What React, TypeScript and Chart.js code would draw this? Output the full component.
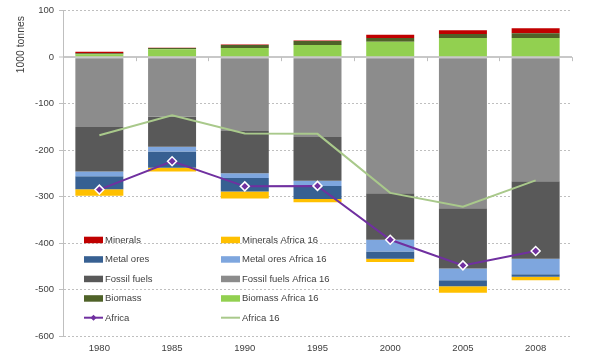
import React, { useEffect, useRef } from 'react';
import { Chart, registerables } from 'chart.js';

Chart.register(...registerables);

// ---------- data (1000 tonnes) ----------
const categories = ['1980', '1985', '1990', '1995', '2000', '2005', '2008'];
const minerals = [3, 0.5, 1, 1, 7, 8, 10.5];
const mineralsAfrica16 = [-14, -8, -15, -7, -7, -14, -7.5];
const metalOres = [-28, -35, -29, -28, -16, -13, -5.5];
const metalOresAfrica16 = [-10, -10, -10, -11, -25, -25, -33];
const fossilFuels = [-96, -65, -91, -94, -100, -130, -167];
const fossilFuelsAfrica16 = [-150, -128, -159, -172, -293, -325, -267];
const biomass = [2, 3, 6.5, 9, 8, 8.5, 10.5];
const biomassAfrica16 = [6.5, 17, 19.5, 26, 33, 41.5, 41];
const africa = [-285, -224, -278, -277, -393, -448, -417];
const africa16 = [-168, -125, -164, -165, -292, -322, -265];
const yMin = -600;
const yMax = 100;
const yStep = 100;
const yTitle = '1000 tonnes';

const legendOrder = [
  'Minerals', 'Minerals Africa 16',
  'Metal ores', 'Metal ores Africa 16',
  'Fossil fuels', 'Fossil fuels Africa 16',
  'Biomass', 'Biomass Africa 16',
  'Africa', 'Africa 16',
];

// ---------- styles ----------
const FONT = "'Liberation Sans', Arial, sans-serif";
const TEXT = '#404040';
const GRID = '#BFBFBF';
const C = {
  minerals: '#C00000',
  mineralsA16: '#FFC000',
  metal: '#376092',
  metalA16: '#7EA6DE',
  fossil: '#595959',
  fossilA16: '#8C8C8C',
  biomass: '#4F6228',
  biomassA16: '#92D050',
  africa: '#7030A0',
  africa16: '#A9C98B',
};

const bar = (label: string, data: number[], color: string) => ({
  type: 'bar' as const,
  label,
  data,
  backgroundColor: color,
  borderWidth: 0,
  categoryPercentage: 1,
  barPercentage: 0.66,
  order: 1,
});

const legendPlugin = {
  id: 'insideLegend',
  afterDraw(chart: any) {
    const { ctx, chartArea } = chart;
    const byLabel: Record<string, any> = {};
    chart.data.datasets.forEach((d: any) => (byLabel[d.label] = d));
    ctx.save();
    ctx.font = `9.5px ${FONT}`;
    ctx.textBaseline = 'middle';
    legendOrder.forEach((label, i) => {
      const ds = byLabel[label];
      const col = i % 2;
      const row = Math.floor(i / 2);
      const x = chartArea.left + 21 + col * 137;
      const y = chartArea.top + 229 + row * 19.5;
      if (ds.type === 'line') {
        ctx.strokeStyle = ds.borderColor;
        ctx.lineWidth = 2;
        ctx.beginPath();
        ctx.moveTo(x, y);
        ctx.lineTo(x + 19, y);
        ctx.stroke();
        if (ds.pointRadius > 0) {
          const cx = x + 9.5;
          const r = 3;
          ctx.fillStyle = ds.borderColor;
          ctx.beginPath();
          ctx.moveTo(cx, y - r);
          ctx.lineTo(cx + r, y);
          ctx.lineTo(cx, y + r);
          ctx.lineTo(cx - r, y);
          ctx.closePath();
          ctx.fill();
        }
      } else {
        ctx.fillStyle = ds.backgroundColor;
        ctx.fillRect(x, y - 3, 19, 6.5);
      }
      ctx.fillStyle = TEXT;
      ctx.fillText(label, x + 21, y + 0.5);
    });

    // y-axis title, placed at the top like the original
    ctx.save();
    ctx.translate(20.8, chartArea.top + 34);
    ctx.rotate(-Math.PI / 2);
    ctx.font = `10.4px ${FONT}`;
    ctx.textAlign = 'center';
    ctx.textBaseline = 'middle';
    ctx.fillStyle = TEXT;
    ctx.fillText(yTitle, 0, 0);
    ctx.restore();

    ctx.restore();
  },
};

const zeroTicksPlugin = {
  id: 'zeroTicks',
  beforeDatasetsDraw(chart: any) {
    const { ctx, chartArea, scales } = chart;
    const y0 = scales.y.getPixelForValue(0);
    const n = categories.length;
    const w = (chartArea.right - chartArea.left) / n;
    ctx.save();
    ctx.strokeStyle = GRID;
    ctx.lineWidth = 1;
    ctx.beginPath();
    for (let k = 1; k <= n; k++) {
      const x = Math.round(chartArea.left + k * w) + 0.5;
      ctx.moveTo(x, y0);
      ctx.lineTo(x, y0 + 4);
    }
    ctx.stroke();
    ctx.restore();
  },
};

export default function App() {
  const ref = useRef<HTMLCanvasElement>(null);

  useEffect(() => {
    const chart = new Chart(ref.current as HTMLCanvasElement, {
      type: 'bar',
      data: {
        labels: categories,
        datasets: [
          {
            type: 'line',
            label: 'Africa',
            data: africa,
            borderColor: C.africa,
            backgroundColor: C.africa,
            borderWidth: 2,
            pointStyle: 'rectRot',
            pointRadius: 4.5,
            pointBackgroundColor: C.africa,
            pointBorderColor: '#FFFFFF',
            pointBorderWidth: 1.5,
            tension: 0,
            stack: 'africa',
            order: 0,
          } as any,
          {
            type: 'line',
            label: 'Africa 16',
            data: africa16,
            borderColor: C.africa16,
            backgroundColor: C.africa16,
            borderWidth: 2,
            pointRadius: 0,
            tension: 0,
            stack: 'africa16',
            order: 0,
          } as any,
          bar('Biomass Africa 16', biomassAfrica16, C.biomassA16),
          bar('Biomass', biomass, C.biomass),
          bar('Fossil fuels Africa 16', fossilFuelsAfrica16, C.fossilA16),
          bar('Fossil fuels', fossilFuels, C.fossil),
          bar('Metal ores Africa 16', metalOresAfrica16, C.metalA16),
          bar('Metal ores', metalOres, C.metal),
          bar('Minerals Africa 16', mineralsAfrica16, C.mineralsA16),
          bar('Minerals', minerals, C.minerals),
        ],
      },
      options: {
        responsive: false,
        animation: false,
        layout: { padding: { left: 0, right: 36, top: 9, bottom: 0 } },
        plugins: {
          legend: { display: false },
          tooltip: { enabled: false },
        },
        scales: {
          x: {
            stacked: true,
            grid: { display: false, drawTicks: false },
            border: { display: false },
            ticks: {
              color: TEXT,
              font: { family: FONT, size: 9.5 },
              padding: 7,
              maxRotation: 0,
            },
            afterFit: (s: any) => {
              s.height = 21;
            },
          },
          y: {
            stacked: true,
            min: yMin,
            max: yMax,
            ticks: {
              stepSize: yStep,
              color: TEXT,
              font: { family: FONT, size: 9.5 },
              padding: 5,
            },
            grid: {
              color: (c: any) => (c.tick && c.tick.value === 0 ? '#C8C8C8' : GRID),
              lineWidth: (c: any) => (c.tick && c.tick.value === 0 ? 2 : 1),
              tickLength: 4,
              tickColor: GRID,
              tickWidth: 1,
              tickBorderDash: [],
            },
            border: {
              display: true,
              color: GRID,
              width: 1,
              dash: (c: any) => (c.tick && c.tick.value !== 0 ? [2, 2] : []),
            },
            afterFit: (s: any) => {
              s.width = 63;
            },
          },
        },
      },
      plugins: [zeroTicksPlugin, legendPlugin],
    } as any);
    return () => chart.destroy();
  }, []);

  return (
    <div style={{ position: 'fixed', left: 0, top: 0, width: 608, height: 357, background: '#fff' }}>
      <canvas ref={ref} width={608} height={357} style={{ display: 'block' }} />
    </div>
  );
}
